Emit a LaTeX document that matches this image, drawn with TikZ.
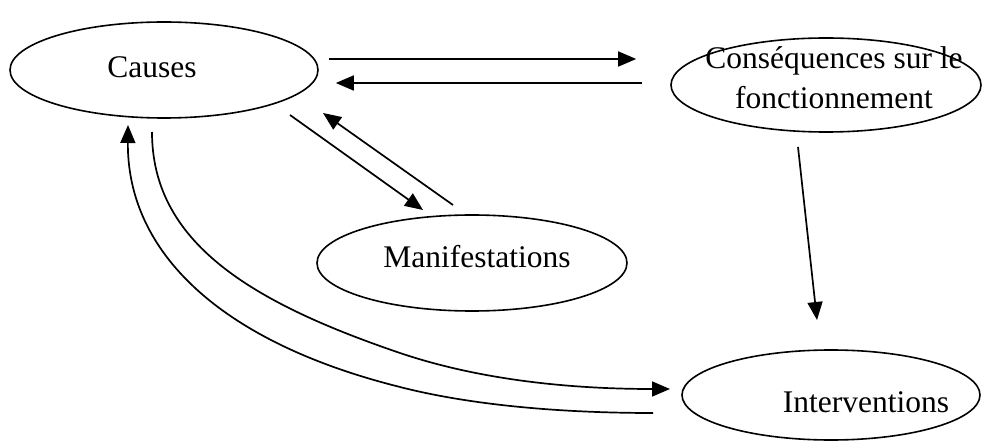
\documentclass[tikz,border=0pt]{standalone}
\usepackage{fontspec}
\setmainfont{Liberation Serif}
\usetikzlibrary{shapes.geometric,arrows.meta}

\begin{document}
\begin{tikzpicture}[x=1pt, y=1pt,
    bubble/.style={draw, ellipse, line width=1.6pt, inner sep=0pt},
    lbl/.style={font=\fontsize{31.5}{40}\selectfont, align=center, inner sep=0pt},
    arr/.style={line width=1.7pt, -{Triangle[length=18pt, width=15pt]}}]
\useasboundingbox (0,0) rectangle (982,442);
\node[bubble, minimum width=308pt, minimum height=96pt,
    label={[lbl, xshift=-12pt, yshift=3pt]center:Causes}] (causes) at (164,372) {};
\node[bubble, minimum width=310pt, minimum height=94pt,
    label={[lbl, xshift=8pt, yshift=7pt]center:Conséquences sur le\\fonctionnement}] (conseq) at (826,357) {};
\node[bubble, minimum width=310pt, minimum height=96pt,
    label={[lbl, xshift=5pt, yshift=6pt]center:Manifestations}] (manif) at (472,179) {};
\node[bubble, minimum width=298pt, minimum height=90pt,
    label={[lbl, xshift=35pt, yshift=-7pt]center:Interventions}] (interv) at (831,47) {};
% causes <-> consequences
\draw[arr] ([shift={(10,11)}]causes.east) -- ([shift={(-34,26)}]conseq.west);
\draw[arr] ([shift={(-28,2)}]conseq.west) -- ([shift={(17,-13)}]causes.east);
% causes <-> manifestations
\draw[arr] ([shift={(126,-45)}]causes.center) -- ([shift={(-49,53)}]manif.center);
\draw[arr] ([shift={(-19,58)}]manif.center) -- ([shift={(159,-43)}]causes.center);
% consequences -> interventions
\draw[arr] ([shift={(-28,-62)}]conseq.center) -- ([shift={(-14,75)}]interv.center);
% causes <-> interventions
\draw[arr] ([shift={(-12,-62)}]causes.center) .. controls (152,200) and (250,140) .. (400,89)
    .. controls (480,62) and (570,53) .. ([shift={(-161,6)}]interv.center);
\draw[arr] ([shift={(-178,-18)}]interv.center) .. controls (560,29) and (470,37) .. (400,55)
    .. controls (220,100) and (127,190) .. ([shift={(-36,-55)}]causes.center);
\end{tikzpicture}
\end{document}
